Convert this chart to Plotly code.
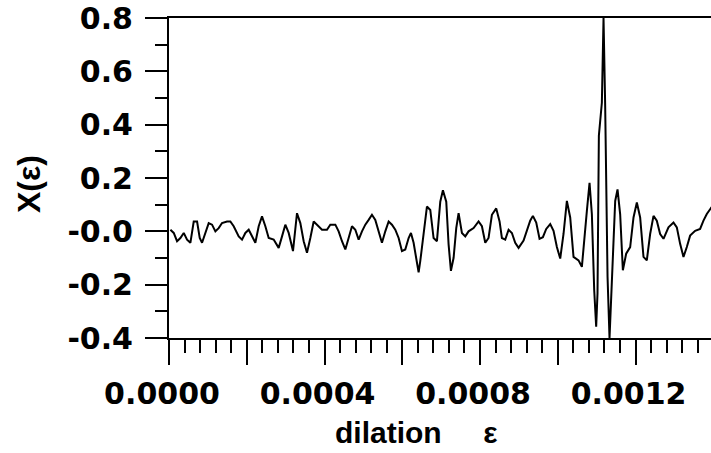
import plotly.graph_objects as go

# dilation epsilon values in units of 1e-6
eps_micro = [
    3.6, 12.2, 20.7, 29.3, 37.9, 46.4, 55.0, 63.6, 72.2, 79.0, 85.0, 93.6,
    102.1, 110.7, 119.3, 127.8, 136.4, 149.3, 157.8, 166.4, 179.3, 187.8,
    196.4, 205.0, 213.5, 222.1, 230.7, 239.2, 247.8, 256.4, 269.2, 282.1,
    290.7, 299.2, 307.8, 318.9, 329.2, 337.8, 346.4, 354.9, 363.5, 372.1,
    380.6, 393.5, 406.3, 414.9, 427.8, 436.3, 444.9, 453.5, 462.0, 470.6,
    479.2, 487.8, 496.3, 504.9, 513.5, 522.0, 530.6, 539.2, 547.7, 556.3,
    564.9, 573.4, 582.0, 590.6, 599.1, 607.7, 616.3, 622.3, 629.1, 637.7,
    642.0, 646.3, 654.8, 663.4, 672.0, 680.5, 689.1,
    697.7, 704.5, 713.1, 719.1, 725.1, 732.0, 738.8, 744.8, 753.4, 762.0,
    770.5, 783.4, 796.2, 804.8, 813.4, 821.9, 830.5, 841.6, 850.2, 856.2,
    864.8, 873.4, 881.9, 890.5, 899.1,
    911.9, 920.5, 929.0, 935.9, 944.5, 953.0, 961.6, 970.2, 980.5, 989.0,
    997.6, 1006.2, 1014.7, 1023.3, 1031.9, 1040.4, 1053.3, 1061.9, 1070.4,
    1074.7, 1081.6, 1087.6, 1093.6, 1098.7, 1102.1, 1105.6, 1113.3, 1117.6,
    1121.8, 1127.9, 1133.0, 1139.0, 1147.6, 1153.6, 1160.4, 1167.3, 1175.8,
    1186.1, 1194.7, 1203.3, 1211.8, 1220.4, 1228.9, 1237.5, 1246.1, 1254.6,
    1263.2, 1271.8, 1284.6, 1297.5, 1306.1, 1314.6, 1323.2, 1331.8, 1340.3,
    1353.2, 1366.0, 1374.6, 1383.2, 1391.8, 1400.0,
]

x_eps = [
    0.006, -0.006, -0.037, -0.025, -0.006, -0.031, -0.043, 0.037, 0.037, -0.025, -0.043, -0.006,
    0.031, 0.025, 0.000, 0.012, 0.031, 0.037, 0.037, 0.019, -0.019, -0.031,
    -0.006, 0.006, -0.019, -0.043, 0.019, 0.056, 0.019, -0.025, -0.031, -0.062,
    -0.019, 0.025, -0.006, -0.074, 0.068, 0.031, -0.037, -0.080, -0.025, 0.037,
    0.025, 0.006, 0.006, 0.025, 0.025, 0.000, -0.037, -0.068, -0.025, 0.019,
    0.006, -0.031, 0.000, 0.025, 0.043, 0.062, 0.043, -0.006, -0.043, 0.000,
    0.037, 0.025, 0.006, -0.025, -0.074, -0.068, -0.025, -0.006, -0.043, -0.117,
    -0.154, -0.111, -0.012, 0.093, 0.080, -0.025, -0.037,
    0.111, 0.154, 0.111, -0.049, -0.148, -0.099, 0.012, 0.068, -0.006, -0.019,
    0.000, 0.012, 0.037, 0.019, -0.043, -0.025, 0.062, 0.086, 0.037, -0.025,
    -0.031, 0.006, -0.006, -0.043, -0.062,
    -0.035, 0.002, 0.040, 0.058, 0.033, -0.028, -0.022, 0.009, 0.027, 0.002,
    -0.059, -0.102, -0.010, 0.114, 0.052, -0.096, -0.109, -0.133, -0.010,
    0.076, 0.182, 0.064, -0.220, -0.358, -0.232, 0.359, 0.482, 0.800,
    0.472, -0.170, -0.400, -0.170, 0.114, 0.157, 0.064, -0.146, -0.084,
    -0.059, 0.052, 0.108, 0.052, -0.096, -0.109, -0.010, 0.058, 0.040,
    -0.010, -0.028, 0.015, 0.033, 0.015, -0.047, -0.096, -0.059, -0.016,
    0.002, 0.009, 0.040, 0.065, 0.083, 0.100,
]

x_tickvals = [0.0, 0.0002, 0.0004, 0.0006, 0.0008, 0.0010, 0.0012]
x_ticktext = ["0.0000", "", "0.0004", "", "0.0008", "", "0.0012"]
y_tickvals = [-0.4, -0.2, 0.0, 0.2, 0.4, 0.6, 0.8]
y_ticktext = ["-0.4", "-0.2", "-0.0", "0.2", "0.4", "0.6", "0.8"]
x_title = "dilation&nbsp;&nbsp;&nbsp;&nbsp;&nbsp;ε"
y_title = "X(ε)"

eps = [v * 1e-6 for v in eps_micro]

fig = go.Figure()
fig.add_trace(go.Scatter(x=eps, y=x_eps, mode="lines",
                         line=dict(color="black", width=2), showlegend=False))

tick_font = dict(family="DejaVu Sans", size=30, color="black", weight="bold")
title_font = dict(family="Liberation Sans", size=30, color="black", weight="bold")

fig.update_layout(
    width=711, height=453,
    margin=dict(l=169, r=0, t=18, b=115, autoexpand=False),
    paper_bgcolor="white", plot_bgcolor="white",
    xaxis=dict(
        range=[0, 0.001394], automargin=False,
        showgrid=False, zeroline=False,
        showline=True, linecolor="black", linewidth=2, mirror=True,
        ticks="outside", ticklen=25, tickwidth=1.5, tickcolor="black",
        tickvals=x_tickvals, ticktext=x_ticktext,
        tickfont=tick_font, ticklabelstandoff=3, ticklabelshift=-7,
        ticklabeloverflow="allow",
        minor=dict(ticks="outside", ticklen=13, tickwidth=1.5, tickcolor="black",
                   tick0=0, dtick=0.00004, showgrid=False),
    ),
    yaxis=dict(
        range=[-0.4, 0.8], automargin=False,
        showgrid=False, zeroline=False,
        showline=True, linecolor="black", linewidth=2,
        ticks="outside", ticklen=22, tickwidth=1.5, tickcolor="black",
        tickvals=y_tickvals, ticktext=y_ticktext,
        tickfont=tick_font, ticklabelstandoff=6,
        ticklabeloverflow="allow",
        minor=dict(ticks="outside", ticklen=12, tickwidth=1.5, tickcolor="black",
                   tick0=0, dtick=0.1, showgrid=False),
    ),
    annotations=[
        dict(text=x_title, xref="paper", yref="paper", x=0, y=0,
             xanchor="center", yanchor="middle", xshift=247, yshift=-94,
             showarrow=False, font=title_font),
        dict(text=y_title, xref="paper", yref="paper", x=0, y=0.5,
             xanchor="center", yanchor="middle", xshift=-140, yshift=-6,
             textangle=-90, showarrow=False,
             font=dict(family="Liberation Sans", size=32, color="black", weight="bold")),
    ],
)

fig.write_html("out.html", config={"displayModeBar": False},
               post_script="document.body.style.margin='0';")
